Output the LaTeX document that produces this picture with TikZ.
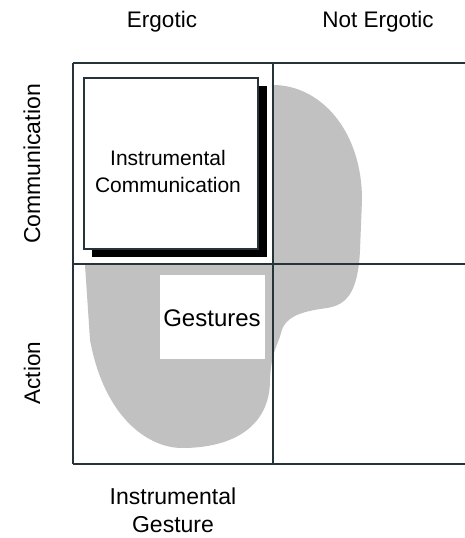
\documentclass[tikz,border=0pt]{standalone}
\usepackage{fontspec}
\setmainfont{Liberation Sans}
\definecolor{gridc}{RGB}{38,52,58}
\definecolor{blobc}{RGB}{193,193,193}
\tikzset{
  gridline/.style={draw=gridc, line width=2pt},
  lbl/.style={inner sep=0pt, align=center, text=black},
}
\begin{document}
\begin{tikzpicture}[x=1pt,y=-1pt]
\useasboundingbox[fill=white] (0,0) rectangle (465,538);
% gray blob
\fill[blobc] (85,265) -- (85,85) -- (273,85)
  .. controls (320,85) and (362,130) .. (362,200)
  -- (360,250)
  .. controls (358,295) and (345,305) .. (327,308)
  .. controls (305,311) and (285,315) .. (281,333)
  .. controls (278,345) and (271,352) .. (270,380)
  .. controls (270,425) and (235,448) .. (182,448)
  .. controls (150,448) and (105,420) .. (90,340)
  -- cycle;
% white upper-left cell
\fill[white] (74,64) rectangle (272,263);
% instrumental communication box with shadow
\fill[black] (92,86) rectangle (267,257);
\draw[fill=white, draw=gridc, line width=1.3pt] (84,78) rectangle (258,249);
\node[lbl, font=\fontsize{21}{27}\selectfont] (ic) at (168,171) {Instrumental\\Communication};
% gestures box
\fill[white] (160,275) rectangle (265,359);
\node[lbl, font=\fontsize{24}{28}\selectfont] (ges) at (212,318) {Gestures};
% grid
\draw[gridline] (73,63) -- (466,63);
\draw[gridline] (73,264) -- (466,264);
\draw[gridline] (73,464) -- (466,464);
\draw[gridline] (73,63) -- (73,464);
\draw[gridline] (273,63) -- (273,464);
% labels
\node[lbl, font=\fontsize{22.5}{27}\selectfont] (erg) at (162,22) {Ergotic};
\node[lbl, font=\fontsize{22.5}{27}\selectfont] (nerg) at (378,22) {Not Ergotic};
\node[lbl, font=\fontsize{23}{27}\selectfont, rotate=90] (comm) at (32,164) {Communication};
\node[lbl, font=\fontsize{22.5}{27}\selectfont, rotate=90] (act) at (32,373) {Action};
\node[lbl, font=\fontsize{23}{28}\selectfont] (ig) at (173,510) {Instrumental\\Gesture};
\end{tikzpicture}
\end{document}
